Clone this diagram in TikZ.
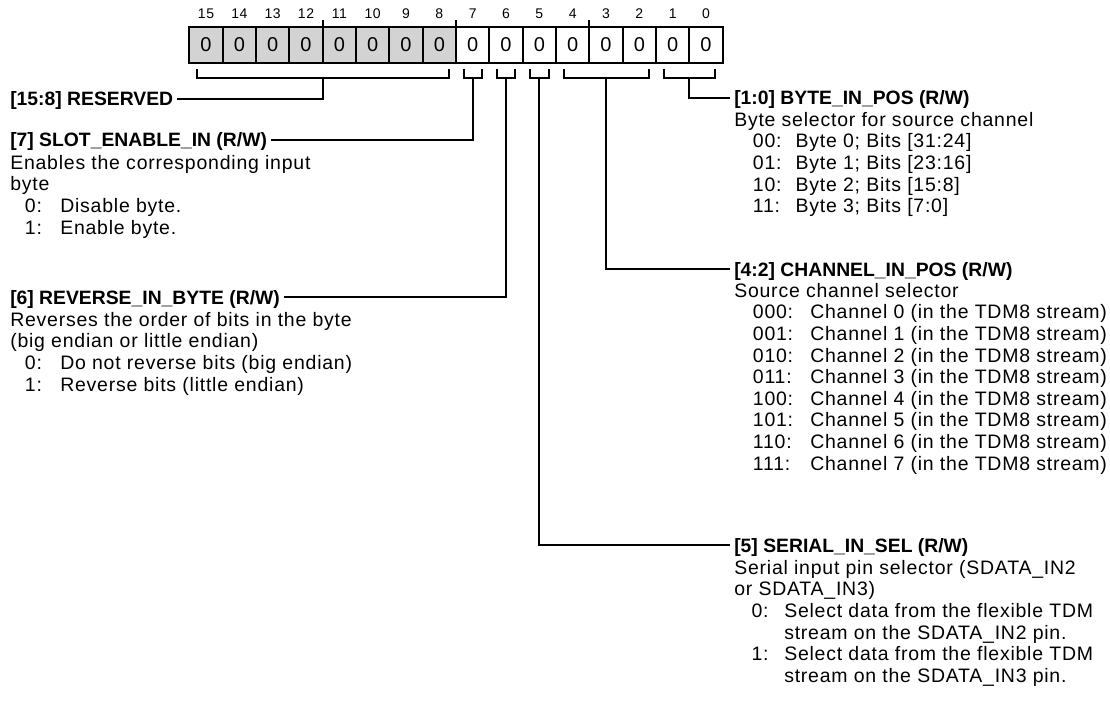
\documentclass[tikz,border=0pt]{standalone}
\usepackage{fontspec}
\setmainfont{Liberation Sans}
\newfontfamily\txtfont[LetterSpace=4]{Liberation Sans}
\usetikzlibrary{calc}
\definecolor{rsvfill}{HTML}{D3D3D3}
\tikzset{
  cell/.style={draw=black, fill=white, line width=1.5pt, outer sep=0pt, inner sep=0pt,
               minimum width=25pt, minimum height=27pt, font=\txtfont\fontsize{15pt}{15pt}\selectfont},
  rsvcell/.style={cell, fill=rsvfill},
  bitno/.style={font=\txtfont\fontsize{10.5pt}{11pt}\selectfont, inner sep=0pt},
  tk/.style={line width=1.5pt},
  brk/.style={line width=1.5pt},
  lnk/.style={line width=1.5pt},
  head/.style={font=\bfseries\fontsize{14.5pt}{16pt}\selectfont, anchor=west,
               inner xsep=3pt, inner ysep=0pt, text height=10.5pt, text depth=0pt},
  body/.style={font=\txtfont\fontsize{14.6pt}{16.2pt}\selectfont, align=left,
               inner sep=0pt, anchor=north west},
}
% value column: indent, width up to the text, value
\newcommand{\opt}[3][11pt]{\makebox[#2][l]{\hspace*{#1}#3}}
% bracket under the cells of one field, with a coordinate at its middle
\newcommand{\fieldbr}[3]{%
  \draw[brk] ($(#1.south west)+(7.5,6)$) -- ++(0,9) -| ($(#2.south east)+(-7.5,6)$);
  \coordinate (#3) at ($(#1.south west)!0.5!(#2.south east)+(0,15)$);}

\begin{document}
\begin{tikzpicture}[x=0.75pt, y=-0.75pt]
\useasboundingbox (0,0) rectangle (1110,713);

% the register
\foreach \b in {15,...,8} {
  \node[rsvcell] (c\b) at ({706-33.333*\b},45) {0};
}
\foreach \b in {7,...,0} {
  \node[cell] (c\b) at ({706-33.333*\b},45) {0};
}
\foreach \b in {0,...,15} {
  \node[bitno] (n\b) at ($(c\b.north)+(0,-13)$) {\b};
}
\foreach \b in {12,8,4} {
  \draw[tk] (c\b.north east) -- ++(0,-7);
}

% fields
\fieldbr{c15}{c8}{mRsv}
\fieldbr{c7}{c7}{mSlot}
\fieldbr{c6}{c6}{mRev}
\fieldbr{c5}{c5}{mSer}
\fieldbr{c4}{c2}{mCh}
\fieldbr{c1}{c0}{mByte}

% left column
\node[head] (rsv) at (6,99) {[15:8] RESERVED};
\node[head] (slot) at (6,140) {[7] SLOT\_ENABLE\_IN (R/W)};
\node[body] (slotd) at (10,155) {Enables the corresponding input\\byte\\
  \opt{37.5pt}{0:}Disable byte.\\\opt{37.5pt}{1:}Enable byte.};
\node[head] (rev) at (6,297) {[6] REVERSE\_IN\_BYTE (R/W)};
\node[body] (revd) at (10,312) {Reverses the order of bits in the byte\\(big endian or little endian)\\
  \opt{37.5pt}{0:}Do not reverse bits (big endian)\\\opt{37.5pt}{1:}Reverse bits (little endian)};

% right column
\node[head] (bpos) at (730,98) {[1:0] BYTE\_IN\_POS (R/W)};
\node[body] (bposd) at (734,112) {Byte selector for source channel\\
  \opt[14pt]{46pt}{00:}Byte 0; Bits [31:24]\\\opt[14pt]{46pt}{01:}Byte 1; Bits [23:16]\\
  \opt[14pt]{46pt}{10:}Byte 2; Bits [15:8]\\\opt[14pt]{46pt}{11:}Byte 3; Bits [7:0]};
\node[head] (chp) at (730,269) {[4:2] CHANNEL\_IN\_POS (R/W)};
\node[body] (chpd) at (734,283) {Source channel selector\\
  \opt[14pt]{57pt}{000:}Channel 0 (in the TDM8 stream)\\\opt[14pt]{57pt}{001:}Channel 1 (in the TDM8 stream)\\
  \opt[14pt]{57pt}{010:}Channel 2 (in the TDM8 stream)\\\opt[14pt]{57pt}{011:}Channel 3 (in the TDM8 stream)\\
  \opt[14pt]{57pt}{100:}Channel 4 (in the TDM8 stream)\\\opt[14pt]{57pt}{101:}Channel 5 (in the TDM8 stream)\\
  \opt[14pt]{57pt}{110:}Channel 6 (in the TDM8 stream)\\\opt[14pt]{57pt}{111:}Channel 7 (in the TDM8 stream)};
\node[head] (ser) at (730,545) {[5] SERIAL\_IN\_SEL (R/W)};
\node[body] (serd) at (734,560) {Serial input pin selector (SDATA\_IN2\\or SDATA\_IN3)\\
  \opt[13pt]{37.5pt}{0:}Select data from the flexible TDM\\\opt{37.5pt}{}stream on the SDATA\_IN2 pin.\\
  \opt[13pt]{37.5pt}{1:}Select data from the flexible TDM\\\opt{37.5pt}{}stream on the SDATA\_IN3 pin.};

% connectors
\draw[lnk] (mRsv) |- (rsv.east);
\draw[lnk] (mSlot) |- (slot.east);
\draw[lnk] (mRev) |- (rev.east);
\draw[lnk] (mByte) |- (bpos.west);
\draw[lnk] (mCh) |- (chp.west);
\draw[lnk] (mSer) |- (ser.west);
\end{tikzpicture}
\end{document}
